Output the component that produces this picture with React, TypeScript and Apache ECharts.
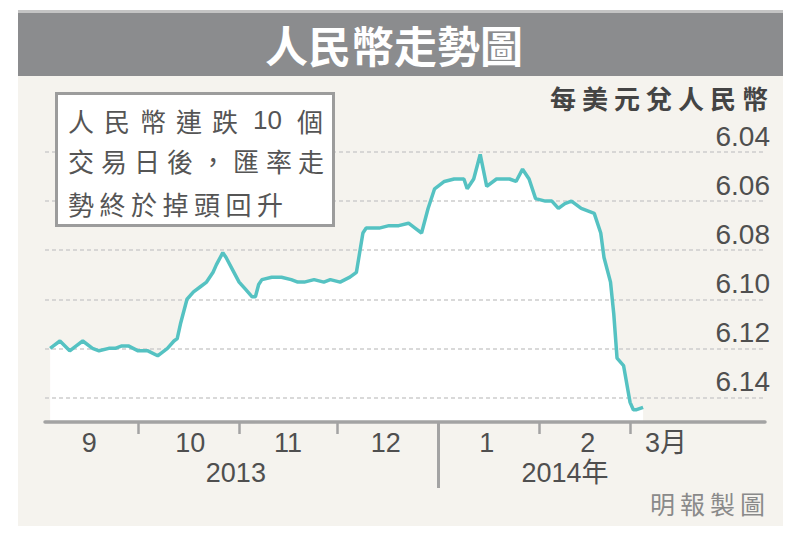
import React, { useEffect, useRef } from "react";
import * as echarts from "echarts";

// ---- data ----
const dates = [
  "2013-09-04", "2013-09-05", "2013-09-07", "2013-09-10", "2013-09-12", "2013-09-14",
  "2013-09-17", "2013-09-19", "2013-09-22", "2013-09-24", "2013-09-26", "2013-09-28",
  "2013-10-01", "2013-10-04", "2013-10-07", "2013-10-08", "2013-10-10", "2013-10-12",
  "2013-10-13", "2013-10-14", "2013-10-16", "2013-10-18", "2013-10-20", "2013-10-22",
  "2013-10-24", "2013-10-25", "2013-10-27", "2013-10-28", "2013-10-30", "2013-11-01",
  "2013-11-03", "2013-11-05", "2013-11-06", "2013-11-07", "2013-11-08", "2013-11-11",
  "2013-11-14", "2013-11-17", "2013-11-19", "2013-11-21", "2013-11-24", "2013-11-27",
  "2013-11-29", "2013-12-02", "2013-12-05", "2013-12-07", "2013-12-09", "2013-12-10",
  "2013-12-14", "2013-12-17", "2013-12-20", "2013-12-23", "2013-12-25", "2013-12-27",
  "2013-12-29", "2013-12-31", "2014-01-03", "2014-01-06", "2014-01-09", "2014-01-10",
  "2014-01-12", "2014-01-14", "2014-01-16", "2014-01-19", "2014-01-21", "2014-01-23",
  "2014-01-25", "2014-01-27", "2014-01-29", "2014-01-31", "2014-02-03", "2014-02-05",
  "2014-02-07", "2014-02-09", "2014-02-11", "2014-02-14", "2014-02-16", "2014-02-18",
  "2014-02-20", "2014-02-21", "2014-02-23", "2014-02-24", "2014-02-25", "2014-02-27",
  "2014-03-01", "2014-03-02", "2014-03-03", "2014-03-05",
];
const rates = [
  6.120, 6.119, 6.117, 6.121, 6.119, 6.117,
  6.120, 6.121, 6.120, 6.120, 6.119, 6.119,
  6.121, 6.121, 6.123, 6.122, 6.120, 6.117,
  6.116, 6.110, 6.100, 6.097, 6.095, 6.093,
  6.089, 6.086, 6.081, 6.083, 6.088, 6.093,
  6.096, 6.099, 6.099, 6.094, 6.092, 6.091,
  6.091, 6.092, 6.093, 6.093, 6.092, 6.093,
  6.092, 6.093, 6.091, 6.089, 6.073, 6.071,
  6.071, 6.070, 6.070, 6.069, 6.071, 6.073,
  6.063, 6.055, 6.052, 6.051, 6.051, 6.055,
  6.051, 6.041, 6.054, 6.051, 6.051, 6.051,
  6.052, 6.047, 6.051, 6.059, 6.060, 6.060,
  6.063, 6.061, 6.060, 6.063, 6.064, 6.065,
  6.073, 6.083, 6.093, 6.106, 6.124, 6.127,
  6.142, 6.145, 6.145, 6.144,
];

const monthLabels = ["9", "10", "11", "12", "1", "2", "3月"];
const monthLabelDates = ["2013-09-16", "2013-10-17", "2013-11-16", "2013-12-16", "2014-01-16", "2014-02-16", "2014-03-12"];
const monthStarts = ["2013-10-01", "2013-11-01", "2013-12-01", "2014-01-01", "2014-02-01", "2014-03-01"];
const yearLabels = ["2013", "2014年"];
const yearLabelDates = ["2013-10-31", "2014-02-09"];
const yearDivider = ["2014-01-01"];

const yMin = 6.04;
const yMax = 6.15;
const yStep = 0.02;

const titleText = "人民幣走勢圖";
const unitText = "每美元兌人民幣";
const noteLine1 = ["人", "民", "幣", "連", "跌", "10", "個"];
const noteLine2 = ["交", "易", "日", "後", "，", "匯", "率", "走"];
const noteLine3 = ["勢", "終", "於", "掉", "頭", "回", "升"];
const creditText = "明報製圖";

// ---- helpers ----
const ts = (s: string) => {
  const [y, m, d] = s.split("-").map(Number);
  return new Date(y, m - 1, d).getTime();
};
const xMin = new Date(2013, 8, 2, 10).getTime();
const xMax = new Date(2014, 3, 11, 10).getTime();

const NUM_FONT = "'Liberation Sans', Arial, 'Noto Sans CJK TC', sans-serif";
const CJK_FONT = "'Noto Sans CJK TC', 'Noto Sans CJK SC', sans-serif";

function spaced(tokens: string[], xs: number[], y: number, style: any, z = 20) {
  return tokens.map((t, i) => ({
    type: "text",
    x: xs[i],
    y,
    z,
    style: {
      text: t,
      verticalAlign: "middle",
      align: "left",
      ...style,
      fontFamily: /\d/.test(t) ? NUM_FONT : CJK_FONT,
    },
  }));
}

export default function App() {
  const ref = useRef<HTMLDivElement>(null);

  useEffect(() => {
    const chart = echarts.init(ref.current!, null, { renderer: "svg", width: 797, height: 540 });
    const seriesData = dates.map((d, i) => [ts(d), rates[i]]);
    const monthLabelTs = monthLabelDates.map(ts);
    const yearLabelTs = yearLabelDates.map(ts);

    const noteStyle = { fill: "#555", fontSize: 26, fontWeight: "normal" };

    const option: any = {
      animation: false,
      backgroundColor: "#ffffff",
      grid: { left: 45, right: 32, top: 152, bottom: 118, containLabel: false },
      xAxis: [
        {
          type: "value",
          position: "bottom",
          min: xMin,
          max: xMax,
          z: 3,
          axisLine: { show: true, onZero: false, lineStyle: { color: "#a3a3a3", width: 3.5 } },
          axisTick: {
            show: true,
            customValues: monthStarts.map(ts),
            length: 12,
            inside: false,
            lineStyle: { color: "#a3a3a3", width: 2.5 },
          },
          axisLabel: {
            show: true,
            customValues: monthLabelTs,
            margin: 7,
            color: "#4f4f4f",
            fontSize: 27,
            fontFamily: NUM_FONT,
            formatter: (v: number, idx: number) => {
              const i = monthLabelTs.indexOf(v);
              return i >= 0 ? monthLabels[i] : monthLabels[idx] ?? "";
            },
          },
          splitLine: { show: false },
        },
        {
          type: "value",
          position: "bottom",
          min: xMin,
          max: xMax,
          z: 3,
          axisLine: { show: false, onZero: false },
          axisTick: {
            show: true,
            customValues: yearDivider.map(ts),
            length: 66,
            inside: false,
            lineStyle: { color: "#a3a3a3", width: 3 },
          },
          axisLabel: {
            show: true,
            customValues: yearLabelTs,
            margin: 37,
            color: "#4f4f4f",
            fontSize: 27,
            fontFamily: NUM_FONT,
            formatter: (v: number, idx: number) => {
              const i = yearLabelTs.indexOf(v);
              return i >= 0 ? yearLabels[i] : yearLabels[idx] ?? "";
            },
          },
          splitLine: { show: false },
        },
      ],
      yAxis: {
        type: "value",
        position: "right",
        inverse: true,
        min: yMin,
        max: yMax,
        interval: yStep,
        z: 2,
        axisLine: { show: false },
        axisTick: { show: false },
        axisLabel: {
          inside: true,
          margin: -5,
          showMaxLabel: false,
          verticalAlign: "bottom",
          padding: [0, 0, 2, 0],
          color: "#4f4f4f",
          fontSize: 28,
          fontFamily: NUM_FONT,
          formatter: (v: number) => v.toFixed(2),
        },
        splitLine: { show: true, lineStyle: { color: "#cdcdcd", width: 1.5, type: [4, 3] } },
      },
      graphic: [
        { type: "rect", z: -10, shape: { x: 18, y: 76, width: 765, height: 450 }, style: { fill: "#f5f3ee" } },
        { type: "rect", z: -9, shape: { x: 18, y: 10, width: 765, height: 66 }, style: { fill: "#8b8c8e" } },
        { type: "rect", z: -8, shape: { x: 18, y: 10, width: 765, height: 3 }, style: { fill: "#c4c4c4" } },
        {
          type: "text",
          x: 394,
          y: 44,
          z: 20,
          style: {
            text: titleText,
            align: "center",
            verticalAlign: "middle",
            fill: "#ffffff",
            fontSize: 43,
            fontWeight: "bold",
            fontFamily: CJK_FONT,
          },
        },
        ...spaced(unitText.split(""), unitText.split("").map((_, i) => 550 + i * 32), 97, { fill: "#444", fontSize: 26, fontWeight: "bold" }),
        {
          type: "rect",
          z: 15,
          shape: { x: 56.5, y: 93.5, width: 277, height: 132 },
          style: { fill: "#ffffff", stroke: "#9c9c9c", lineWidth: 3 },
        },
        ...spaced(noteLine1, [68, 104, 140, 176, 212, 253, 297], 120, noteStyle),
        ...spaced(noteLine2, [68, 101, 134, 167, 200, 233, 266, 298], 160, noteStyle),
        ...spaced(noteLine3, noteLine3.map((_, i) => 68 + i * 31.5), 203, noteStyle),
        ...spaced(creditText.split(""), creditText.split("").map((_, i) => 650 + i * 30), 503, { fill: "#8a8a8a", fontSize: 25, fontWeight: "normal" }),
      ],
      series: [
        {
          type: "line",
          xAxisIndex: 0,
          data: seriesData,
          symbol: "none",
          silent: true,
          z: 1,
          lineStyle: { width: 0, opacity: 0 },
          areaStyle: { color: "#ffffff", opacity: 1, origin: "end" },
        },
        {
          type: "line",
          xAxisIndex: 0,
          data: seriesData,
          symbol: "none",
          clip: false,
          z: 3,
          lineStyle: { color: "#55c2c2", width: 3.5 },
        },
      ],
    };

    chart.setOption(option);
    return () => chart.dispose();
  }, []);

  return <div ref={ref} style={{ position: "fixed", left: 0, top: 0, width: 797, height: 540 }} />;
}
